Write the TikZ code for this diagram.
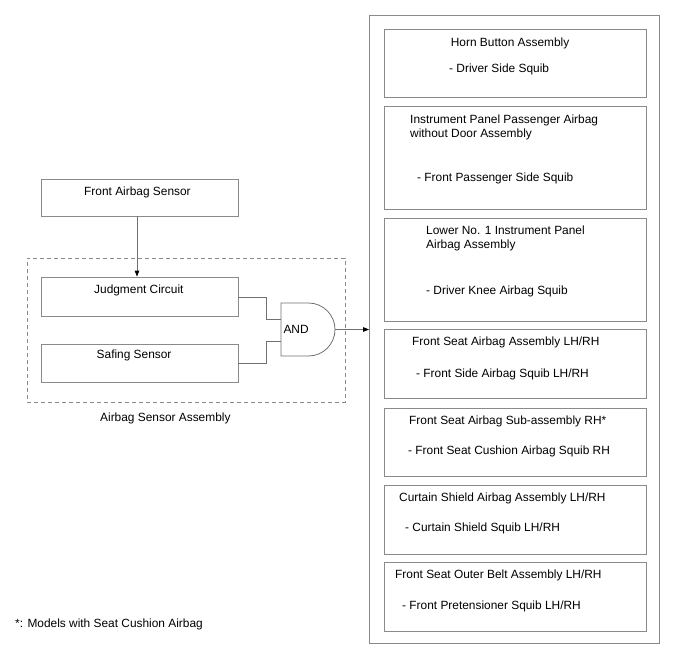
\documentclass[tikz,border=0pt]{standalone}
\usepackage{fontspec}
\setmainfont{Liberation Sans}
\usetikzlibrary{arrows.meta}
\tikzset{
  box/.style={draw=boxgray, line width=0.8pt, rectangle, inner sep=0pt},
  lbl/.style={anchor=west, inner sep=0pt, text height=8.6pt, text depth=0pt, font=\fontsize{11.9}{14}\selectfont},
  wire/.style={draw=wiregray, line width=0.8pt},
  arr/.style={wire, -{Triangle[length=6pt,width=4.5pt,fill=black,color=black]}},
}
\definecolor{boxgray}{HTML}{8A8A8A}
\definecolor{wiregray}{HTML}{707070}
\newcommand{\pbox}[5]{\node[box, minimum width={#4-#2}, minimum height={#5-#3}] (#1) at ({(#2+#4)/2},{(#3+#5)/2}) {};}
\begin{document}
\begin{tikzpicture}[x=1pt,y=-1pt]
\useasboundingbox (0,0) rectangle (688,658);
% left side
\pbox{fas}{41}{179}{238}{216}
\pbox{jc}{41}{277}{238}{316}
\pbox{ss}{41}{344}{238}{382}
\node[box, dashed, dash pattern=on 4pt off 3pt, minimum width=318, minimum height=144] (asa) at (186,330) {};
\node[lbl] (tfas) at (84,191) {Front Airbag Sensor};
\node[lbl] (tjc) at (94,289) {Judgment Circuit};
\node[lbl] (tss) at (96.5,354) {Safing Sensor};
\node[lbl] (tasa) at (100,417) {Airbag Sensor Assembly};
\draw[arr] (fas.south -| 137,0) -- (jc.north -| 137,0);
% AND gate
\coordinate (g1) at (281,319);
\coordinate (g2) at (281,341);
\coordinate (gout) at (335,329.5);
\draw[wire, fill=white] (281,303) -- (308.5,303) arc[start angle=-90, end angle=90, radius=26.5] -- (281,356) -- cycle;
\node[lbl] (tand) at (283.3,329.5) {AND};
\draw[wire] (jc.east |- 0,297) -- (266,297) |- (g1);
\draw[wire] (ss.east |- 0,363) -- (266,363) |- (g2);
% right side
\pbox{outer}{369.5}{15}{659}{643}
\draw[arr] (gout) -- (outer.west |- gout);
\pbox{b1}{384}{29}{646}{97}
\pbox{b2}{384}{106}{646}{209}
\pbox{b3}{384}{218}{646}{321}
\pbox{b4}{384}{329}{646}{398}
\pbox{b5}{384}{408}{646}{476}
\pbox{b6}{384}{485}{646}{554}
\pbox{b7}{384}{562}{646}{631}
\node[lbl] (t1a) at (450.7,42) {Horn Button Assembly};
\node[lbl] (t1b) at (449,68) {- Driver Side Squib};
\node[lbl] (t2a) at (410,119) {Instrument Panel Passenger Airbag};
\node[lbl] (t2b) at (410,133) {without Door Assembly};
\node[lbl] (t2c) at (417,177) {- Front Passenger Side Squib};
\node[lbl] (t3a) at (426,230) {Lower No. 1 Instrument Panel};
\node[lbl] (t3b) at (426,244) {Airbag Assembly};
\node[lbl] (t3c) at (426,290) {- Driver Knee Airbag Squib};
\node[lbl] (t4a) at (412,341) {Front Seat Airbag Assembly LH/RH};
\node[lbl] (t4b) at (416,373) {- Front Side Airbag Squib LH/RH};
\node[lbl] (t5a) at (409,420) {Front Seat Airbag Sub-assembly RH*};
\node[lbl] (t5b) at (408,450) {- Front Seat Cushion Airbag Squib RH};
\node[lbl] (t6a) at (399,497) {Curtain Shield Airbag Assembly LH/RH};
\node[lbl] (t6b) at (405,527) {- Curtain Shield Squib LH/RH};
\node[lbl] (t7a) at (395,574) {Front Seat Outer Belt Assembly LH/RH};
\node[lbl] (t7b) at (402,605) {- Front Pretensioner Squib LH/RH};
\node[lbl] (foot) at (15,623) {*: Models with Seat Cushion Airbag};
\end{tikzpicture}
\end{document}
